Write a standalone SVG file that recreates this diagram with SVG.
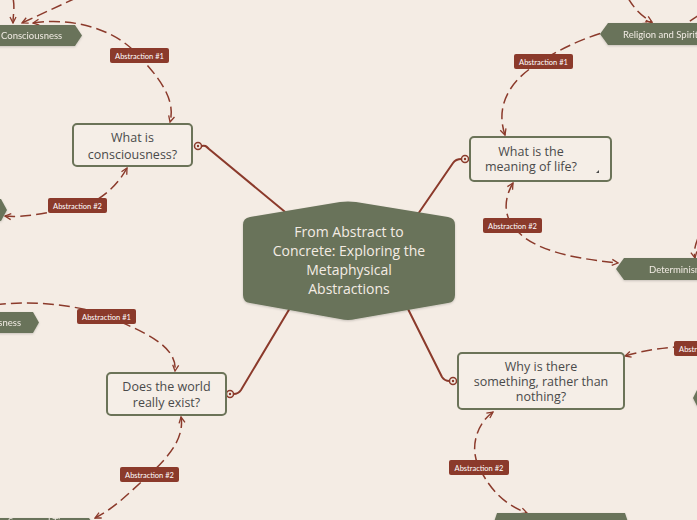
<svg xmlns="http://www.w3.org/2000/svg" width="697" height="520" viewBox="0 0 697 520">
<defs>
<marker id="arr" viewBox="0 0 8 8" refX="7" refY="4" markerWidth="8" markerHeight="8" markerUnits="userSpaceOnUse" orient="auto-start-reverse">
<path d="M1,1 L7,4 L1,7" fill="none" stroke="#8B3A2B" stroke-width="1.3"/>
</marker>
<filter id="sh" x="-10%" y="-20%" width="120%" height="150%">
<feDropShadow dx="0" dy="1" stdDeviation="1" flood-color="#000" flood-opacity="0.18"/>
</filter>
</defs>
<style>
.bg{fill:#F4ECE4}
.main{fill:none;stroke:#8B3A2B;stroke-width:2;stroke-linecap:round}
.rel{fill:none;stroke:#8B3A2B;stroke-width:1.5;stroke-dasharray:11 5}
.ring{fill:#F4ECE4;stroke:#8B3A2B;stroke-width:1.5}
.dot{fill:#8B3A2B}
.q rect{fill:#F5EEE7;stroke:#6B7358;stroke-width:2}
.q text{font-family:"Open Sans",Lato,sans-serif;font-size:12.5px;fill:#4A4A4A;text-anchor:middle}
.lab rect{fill:#8B3A2B}
.lab text{font-family:Lato,"Open Sans",sans-serif;font-size:7.5px;fill:#FFFFFF;text-anchor:middle}
.tag path{fill:#69735A}
.tag text{font-family:Lato,"Open Sans",sans-serif;font-size:9.5px;fill:#F1EBE3}
.ctr text{font-family:"Open Sans",Lato,sans-serif;font-size:14px;font-weight:500;fill:#F4ECE4;text-anchor:middle}
</style>
<rect class="bg" x="0" y="0" width="697" height="520"/>

<g id="connectors">
<path class="main" d="M201.5,146 C205,145 206,146 209,149 L290,216"/>
<path class="main" d="M461.5,159 C457,159 455,160 453,163 L418,214"/>
<path class="main" d="M233.5,394 C237,394 239,393 241,390 L290,308"/>
<path class="main" d="M449.5,381 C446,381 444,380 442,377 L407,307"/>
<circle class="ring" cx="198" cy="146" r="3.5"/><circle class="dot" cx="198" cy="146" r="1.2"/>
<circle class="ring" cx="465" cy="159" r="3.5"/><circle class="dot" cx="465" cy="159" r="1.2"/>
<circle class="ring" cx="230" cy="394" r="3.5"/><circle class="dot" cx="230" cy="394" r="1.2"/>
<circle class="ring" cx="453" cy="381" r="3.5"/><circle class="dot" cx="453" cy="381" r="1.2"/>

<path class="rel" marker-start="url(#arr)" marker-end="url(#arr)" d="M33,23 C75,17 115,30 137,54 C160,78 176,100 170,122"/>
<path class="rel" marker-start="url(#arr)" marker-end="url(#arr)" d="M127,168 C115,190 95,204 78,207 C50,212 25,218 5,216"/>
<path class="rel" marker-start="url(#arr)" marker-end="url(#arr)" d="M505,135 C495,105 510,80 540,62 C570,42 615,25 652,23"/>
<path class="rel" marker-start="url(#arr)" marker-end="url(#arr)" d="M513,183 C503,200 505,215 512,225 C530,250 570,258 618,263"/>
<path class="rel" marker-end="url(#arr)" d="M-5,305 C30,300 80,305 106,316 C140,330 178,345 175,371"/>
<path class="rel" marker-start="url(#arr)" marker-end="url(#arr)" d="M181,417 C185,440 165,460 150,474 C130,492 115,508 95,518"/>
<path class="rel" marker-start="url(#arr)" marker-end="url(#arr)" d="M493,412 C475,425 470,450 479,467 C490,490 505,505 527,513"/>
<path class="rel" marker-end="url(#arr)" d="M700,346 C670,346 645,350 625,356"/>
<path class="rel" marker-end="url(#arr)" d="M13,-2 C15,8 13,15 13,23"/>
<path class="rel" stroke-dasharray="40 3" marker-end="url(#arr)" d="M76,-2 L22,23"/>
<path class="rel" marker-end="url(#arr)" d="M628,-2 C635,10 643,17 652,22"/>
<path class="rel" d="M699,15 L687,23"/>
<path class="rel" marker-end="url(#arr)" d="M698,238 C694,248 694,253 695,258"/>
</g>

<g id="center" class="ctr">
<path fill="#69735A" filter="url(#sh)" d="M250,217 L340,202 Q348,201 356,202 L448,217 Q455,218 455,225 L455,295 Q455,302 448,303 L356,319 Q348,321 340,319 L250,303 Q243,302 243,295 L243,225 Q243,218 250,217 Z"/>
<text x="349" y="237">From Abstract to</text>
<text x="349" y="256">Concrete: Exploring the</text>
<text x="349" y="275">Metaphysical</text>
<text x="349" y="294">Abstractions</text>
</g>

<g id="q-consciousness" class="q">
<rect x="73" y="124" width="119" height="42" rx="4"/>
<text x="132.5" y="142">What is</text>
<text x="132.5" y="159">consciousness?</text>
</g>
<g id="q-meaning" class="q">
<rect x="470" y="137" width="141" height="44" rx="4"/>
<text x="531" y="156">What is the</text>
<text x="531" y="171">meaning of life?</text>
<path d="M596,173 L599,170 L599,173 Z" fill="#4A4A4A"/>
</g>
<g id="q-world" class="q">
<rect x="107" y="373" width="119" height="42" rx="4"/>
<text x="166.5" y="391">Does the world</text>
<text x="166.5" y="407">really exist?</text>
</g>
<g id="q-why" class="q">
<rect x="458" y="353" width="166" height="56" rx="4"/>
<text x="541" y="371">Why is there</text>
<text x="541" y="386">something, rather than</text>
<text x="541" y="401">nothing?</text>
</g>

<g id="lab-c1" class="lab"><rect x="110" y="48" width="59" height="15" rx="2"/><text x="139.5" y="58.5">Abstraction #1</text></g>
<g id="lab-c2" class="lab"><rect x="48" y="198" width="59" height="15" rx="2"/><text x="77.5" y="208.5">Abstraction #2</text></g>
<g id="lab-m1" class="lab"><rect x="514" y="54" width="59" height="15" rx="2"/><text x="543.5" y="64.5">Abstraction #1</text></g>
<g id="lab-m2" class="lab"><rect x="483" y="218" width="59" height="15" rx="2"/><text x="512.5" y="228.5">Abstraction #2</text></g>
<g id="lab-w1" class="lab"><rect x="77" y="309" width="59" height="15" rx="2"/><text x="106.5" y="319.5">Abstraction #1</text></g>
<g id="lab-w2" class="lab"><rect x="120" y="467" width="59" height="15" rx="2"/><text x="149.5" y="477.5">Abstraction #2</text></g>
<g id="lab-y2" class="lab"><rect x="449" y="460" width="60" height="15" rx="2"/><text x="479" y="470.5">Abstraction #2</text></g>
<g id="lab-y1" class="lab"><rect x="674" y="341" width="59" height="15" rx="2"/><text x="703.5" y="351.5">Abstraction #1</text></g>

<g id="tag-consciousness" class="tag" filter="url(#sh)">
<path d="M-5,25 L75,25 L82,35.5 L75,46 L-5,46 Z"/>
<text x="1" y="39">Consciousness</text>
</g>
<g id="tag-religion" class="tag" filter="url(#sh)">
<path d="M608,23 L705,23 L705,45 L608,45 L600,34 Z"/>
<text x="623" y="37.5">Religion and Spirituality</text>
</g>
<g id="tag-determinism" class="tag" filter="url(#sh)">
<path d="M624,258 L705,258 L705,280 L624,280 L616,269 Z"/>
<text x="649" y="272.5">Determinism</text>
</g>
<g id="tag-left-top" class="tag" filter="url(#sh)">
<path d="M-10,199 L1,199 L7,210 L1,221 L-10,221 Z"/>
</g>
<g id="tag-left-mid" class="tag" filter="url(#sh)">
<path d="M-10,312 L33,312 L39,322.5 L33,333 L-10,333 Z"/>
<text x="21" y="326" text-anchor="end">Consciousness</text>
</g>
<g id="tag-space" class="tag" filter="url(#sh)">
<path d="M-10,518 L89,518 L96,528 L89,538 L-10,538 Z"/>
<text x="8" y="524.5">Space and Time</text>
</g>
<g id="tag-bottom" class="tag" filter="url(#sh)">
<path d="M493,525 L497,513 L625,513 L629,525 Z"/>
</g>
<g id="tag-right" class="tag" filter="url(#sh)">
<path d="M705,390 L697,390 L693,398 L697,406 L705,406 Z"/>
</g>
</svg>
